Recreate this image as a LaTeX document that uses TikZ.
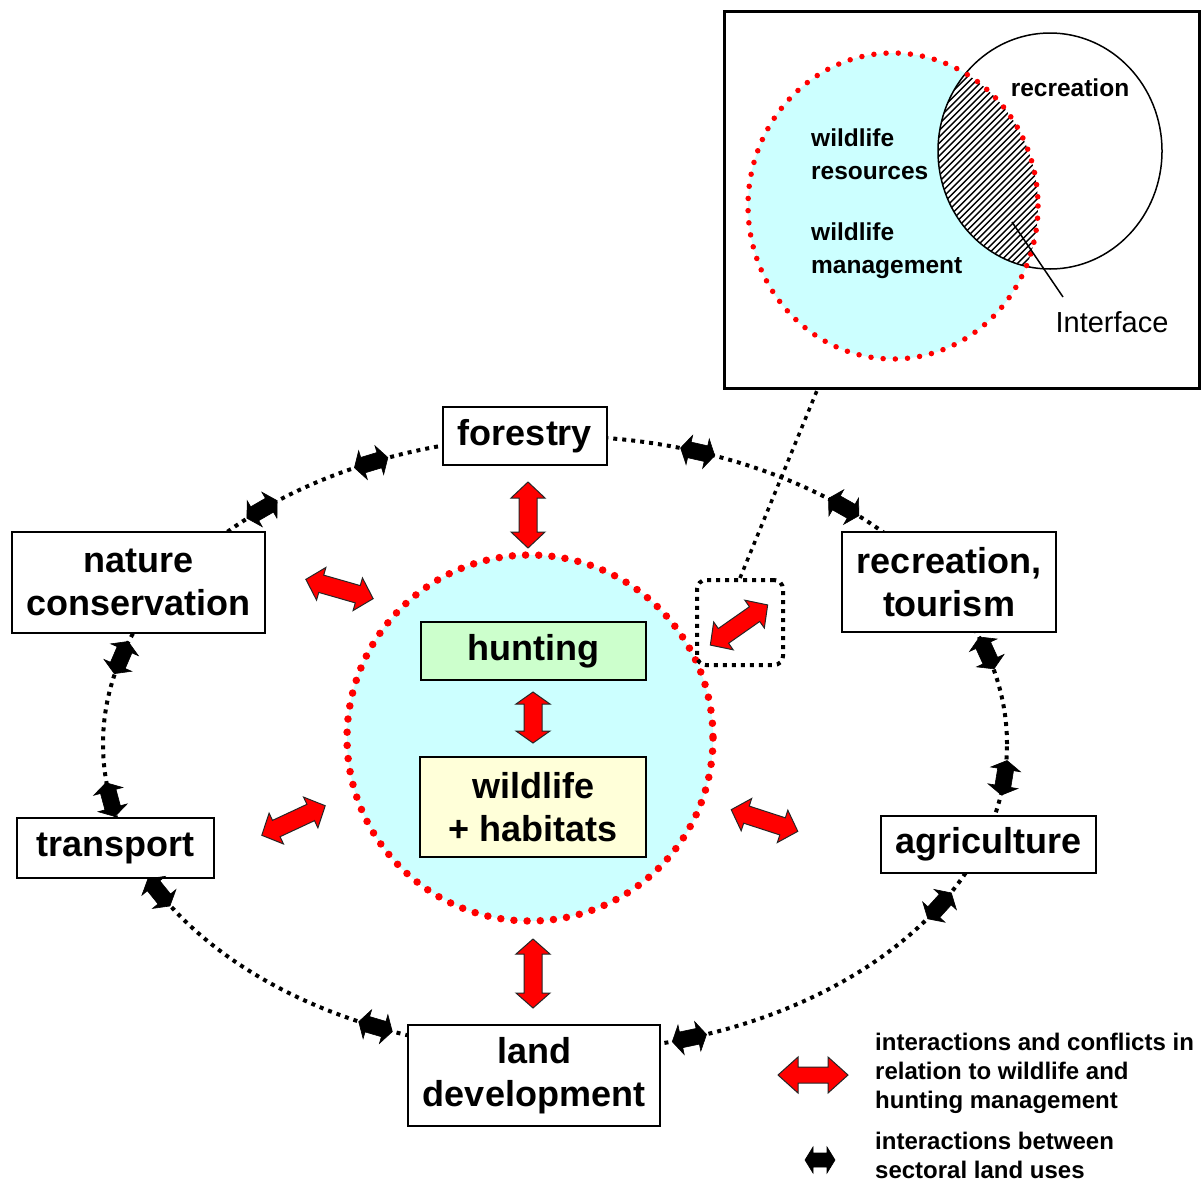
\documentclass[tikz,border=0pt]{standalone}
\usepackage{fontspec}
\setmainfont{Liberation Sans}
\usetikzlibrary{calc,shapes.geometric}
\definecolor{cyanC}{HTML}{CCFFFF}
\definecolor{huntG}{HTML}{CCFFCC}
\definecolor{wildY}{HTML}{FFFFD9}
\newcommand{\darr}[7]{%
  \begin{scope}[shift={#1},rotate=#2]
  \filldraw[#7] (-#3,0) -- (-#3+#6,#5) -- (-#3+#6,#4) -- (#3-#6,#4) -- (#3-#6,#5) -- (#3,0)
     -- (#3-#6,-#5) -- (#3-#6,-#4) -- (-#3+#6,-#4) -- (-#3+#6,-#5) -- cycle;
  \end{scope}}
\tikzset{
  box/.style={draw=black, line width=1.5pt, fill=white, inner sep=0pt, align=center,
    font=\fontsize{36}{43}\selectfont\bfseries},
  ringline/.style={draw=black, line width=4pt, dash pattern=on 4pt off 5pt, inner sep=0pt},
  reddots/.style={draw=red, line width=7.5pt, dash pattern=on 0pt off 13.2pt, line cap=round},
  redarr/.style={fill=red, draw=black!85, line width=1pt, line join=miter},
  blackarr/.style={fill=black, draw=black, line width=0.6pt},
  insettext/.style={inner sep=0pt, align=left, font=\fontsize{24.5}{33}\selectfont\bfseries},
  legtext/.style={inner sep=0pt, align=left, anchor=west, font=\fontsize{24}{29}\selectfont\bfseries},
  blackdots/.style={draw=black, line width=4pt, dash pattern=on 4pt off 5pt}
}
\begin{document}
\begin{tikzpicture}[x=1pt,y=-1pt]
\useasboundingbox (0,0) rectangle (1201,1181);

% outer ring of sectoral land uses
\node[ellipse, ringline, minimum width=904pt, minimum height=616pt] (ring) at (555,744) {};

% sector boxes
\node[box, minimum width=164pt, minimum height=58pt] (forestry) at (525,436) {forestry};
\node[box, minimum width=253pt, minimum height=101pt] (nature) at (138.5,582.5) {nature\\conservation};
\node[box, minimum width=214pt, minimum height=100pt] (recreation) at (949,582) {recreation,\\tourism};
\node[box, minimum width=197pt, minimum height=60pt] (transport) at (115.5,848) {transport};
\node[box, minimum width=215pt, minimum height=57pt] (agriculture) at (988.5,844.5) {agriculture};
\node[box, minimum width=252pt, minimum height=101pt] (land) at (534,1075.5) {land\\development};

% core circle
\node[circle, fill=cyanC, minimum size=366pt, inner sep=0pt] (core) at (530,738) {};
\draw[reddots] (core.center) circle [radius=183];
\node[box, fill=huntG, minimum width=225pt, minimum height=58pt] (hunting) at (533.5,651) {hunting};
\node[box, fill=wildY, minimum width=226pt, minimum height=100pt] (wildlife) at (533,807) {wildlife\\+ habitats};

% red interaction arrows
\darr{(528,515)}{90}{33}{9}{17}{16}{redarr}
\darr{(533,717.5)}{90}{25.5}{9}{17}{12}{redarr}
\darr{(533,973.5)}{90}{34.5}{9}{17}{15}{redarr}
\darr{(339.5,589)}{-16}{35}{9}{17}{16}{redarr}
\darr{(293.5,820.5)}{25}{35}{9}{17}{16}{redarr}
\darr{(764.5,820.5)}{-18}{35}{9}{17}{16}{redarr}
\darr{(739,625)}{35}{35}{9}{17}{16}{redarr}

% black arrows along the ring
\foreach \t in {-114,-130.4,-71.6,-50.3,-163.7,169.6,-17.2,6.3,151.2,113.4,72.7,31.7}{
  \pgfmathsetmacro\ang{atan2(-308*cos(\t),-452*sin(\t))}
  \darr{($(ring.center)+(\t:452 and 308)$)}{\ang}{17.5}{8}{15}{9}{blackarr}
}

% zoom box and link to inset
\node[blackdots, rounded corners=9pt, minimum width=86pt, minimum height=85pt, inner sep=0pt] (zoombox) at (740,622.5) {};
\coordinate (insetlink) at (818,388);
\draw[blackdots, line width=3.5pt] (zoombox.north) -- (insetlink);

% inset
\node[draw=black, line width=3pt, fill=white, minimum width=475pt, minimum height=377pt, inner sep=0pt] (inset) at (961.5,199.5) {};
\node[ellipse, fill=cyanC, minimum width=290pt, minimum height=306pt, inner sep=0pt] (wl) at (893,206) {};
\node[ellipse, fill=white, minimum width=224pt, minimum height=236pt, inner sep=0pt] (rec) at (1050,151) {};
\begin{scope}
  \clip (893,206) ellipse [x radius=145, y radius=153];
  \clip (1050,151) ellipse [x radius=112, y radius=118];
  \foreach \k in {0,...,52}{
    \draw[line width=1.4pt] (680+6.4*\k,300) -- ++(300,-300);
  }
\end{scope}
\draw[line width=1.5pt] (1050,151) ellipse [x radius=112, y radius=118];
\draw[draw=red, line width=5.5pt, dash pattern=on 0pt off 12.2pt, line cap=round] (893,206) ellipse [x radius=145, y radius=153];
\coordinate (ifa) at (1012,222);
\coordinate (ifb) at (1063,297);
\draw[line width=1.5pt] (ifa) -- (ifb);
\node[insettext] (lrec) at (1070,88) {recreation};
\node[insettext, anchor=west] (lres) at (811,154) {wildlife\\resources};
\node[insettext, anchor=west] (lman) at (811,251) {wildlife\\management};
\node[inner sep=0pt, font=\fontsize{29}{33}\selectfont] (lif) at (1112,322) {Interface};

% legend
\darr{(813,1075)}{0}{35}{8}{18}{20}{redarr}
\darr{(820,1160)}{0}{15}{7}{13}{8}{blackarr}
\node[legtext] (leg1) at (875,1073) {interactions and conflicts in\\relation to wildlife and\\hunting management};
\node[legtext] (leg2) at (875,1155) {interactions between\\sectoral land uses};
\end{tikzpicture}
\end{document}
